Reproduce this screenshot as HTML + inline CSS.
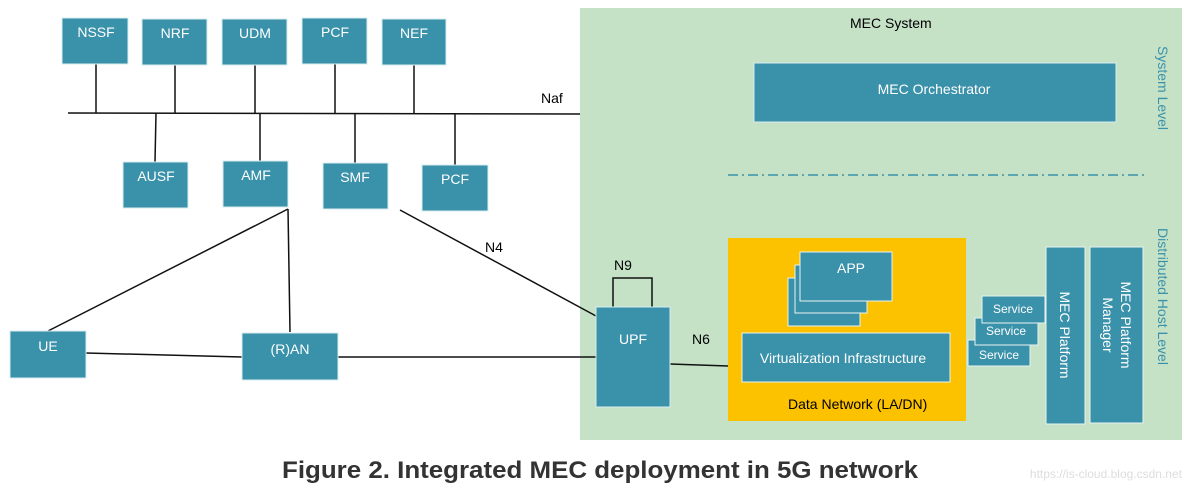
<!DOCTYPE html>
<html><head><meta charset="utf-8"><style>
html,body{margin:0;padding:0;background:#fff;width:1193px;height:490px;overflow:hidden}
svg text{font-family:"Liberation Sans",sans-serif}
</style></head><body>
<svg width="1193" height="490" viewBox="0 0 1193 490" xmlns="http://www.w3.org/2000/svg">
<rect x="580" y="8" width="602" height="432" fill="#c5e2c7"/>
<g stroke="#111" stroke-width="1.5" fill="none">
<line x1="68" y1="113" x2="580" y2="114"/>
<line x1="96" y1="64" x2="96" y2="113"/><line x1="175" y1="65" x2="175" y2="113"/>
<line x1="255" y1="65" x2="255" y2="113"/><line x1="335" y1="64" x2="335" y2="113"/>
<line x1="414" y1="65" x2="414" y2="113"/>
<line x1="156" y1="113" x2="155" y2="162"/><line x1="260" y1="113" x2="260" y2="161"/>
<line x1="355" y1="113" x2="355" y2="163"/><line x1="455" y1="113" x2="455" y2="165"/>
<line x1="288" y1="209" x2="48" y2="331"/><line x1="288" y1="209" x2="290" y2="332"/>
<line x1="400" y1="210" x2="596" y2="316"/>
<line x1="86" y1="353" x2="242" y2="357"/><line x1="338" y1="357" x2="596" y2="357"/>
<line x1="670" y1="364" x2="728" y2="366"/>
<polyline points="613,307 613,278 652,278 652,307"/>
</g>
<g fill="#3a91aa" stroke="#d8ecef" stroke-width="1">
<rect x="62" y="18" width="66" height="46"/><rect x="142" y="19" width="65" height="46"/>
<rect x="222" y="19" width="65" height="46"/><rect x="302" y="18" width="65" height="46"/>
<rect x="382" y="19" width="64" height="46"/>
<rect x="123" y="162" width="65" height="46"/><rect x="223" y="161" width="65" height="46"/>
<rect x="323" y="163" width="65" height="46"/><rect x="422" y="165" width="66" height="46"/>
<rect x="10" y="331" width="76" height="47"/><rect x="242" y="333" width="96" height="47"/>
<rect x="596" y="307" width="74" height="100"/>
<rect x="754" y="63" width="362" height="59"/>
</g>
<line x1="728" y1="175" x2="1145" y2="175" stroke="#3a91aa" stroke-width="1.5" stroke-dasharray="10,4,2,4"/>
<rect x="728" y="238" width="238" height="183" fill="#fcc200"/>
<g fill="#3a91aa" stroke="#e8f2f2" stroke-width="1">
<rect x="788" y="278" width="72" height="48"/><rect x="795" y="265" width="72" height="48"/>
<rect x="800" y="252" width="92" height="49"/>
<rect x="742" y="333" width="208" height="49"/>
<rect x="968" y="340" width="62" height="26"/><rect x="975" y="318" width="63" height="27"/>
<rect x="982" y="296" width="63" height="27"/>
<rect x="1046" y="247" width="39" height="177"/><rect x="1090" y="247" width="53" height="176"/>
</g>
<g fill="#fff" font-size="14" text-anchor="middle">
<text x="96" y="37">NSSF</text><text x="175" y="38">NRF</text><text x="255" y="38">UDM</text>
<text x="335" y="37">PCF</text><text x="414" y="38">NEF</text>
<text x="156" y="181">AUSF</text><text x="256" y="180">AMF</text><text x="355" y="182">SMF</text>
<text x="455" y="184">PCF</text>
<text x="48" y="351">UE</text><text x="290" y="354">(R)AN</text><text x="633" y="344">UPF</text>
<text x="934" y="94">MEC Orchestrator</text>
<text x="851" y="273">APP</text>
<text x="843" y="363">Virtualization Infrastructure</text>
<text x="999" y="359" font-size="12">Service</text><text x="1006" y="335" font-size="12">Service</text>
<text x="1013" y="313" font-size="12">Service</text>
<text transform="translate(1060,335) rotate(90)">MEC  Platform</text>
<text transform="translate(1121,325) rotate(90)">MEC Platform</text>
<text transform="translate(1103,325) rotate(90)">Manager</text>
</g>
<g fill="#000" font-size="14">
<text x="541" y="103">Naf</text><text x="485" y="252">N4</text><text x="614" y="270">N9</text>
<text x="692" y="344">N6</text><text x="788" y="409">Data Network (LA/DN)</text>
<text x="850" y="28">MEC System</text>
</g>
<g fill="#3a91aa" font-size="14">
<text transform="translate(1158,46) rotate(90)">System Level</text>
<text transform="translate(1158,228) rotate(90)">Distributed Host Level</text>
</g>
<text x="600" y="478" text-anchor="middle" font-size="24" font-weight="bold" fill="#333" textLength="636" lengthAdjust="spacingAndGlyphs">Figure 2. Integrated MEC deployment in 5G network</text>
<text x="1182" y="478" text-anchor="end" font-size="12" fill="#ddd">https://is-cloud.blog.csdn.net</text>
</svg>
</body></html>
